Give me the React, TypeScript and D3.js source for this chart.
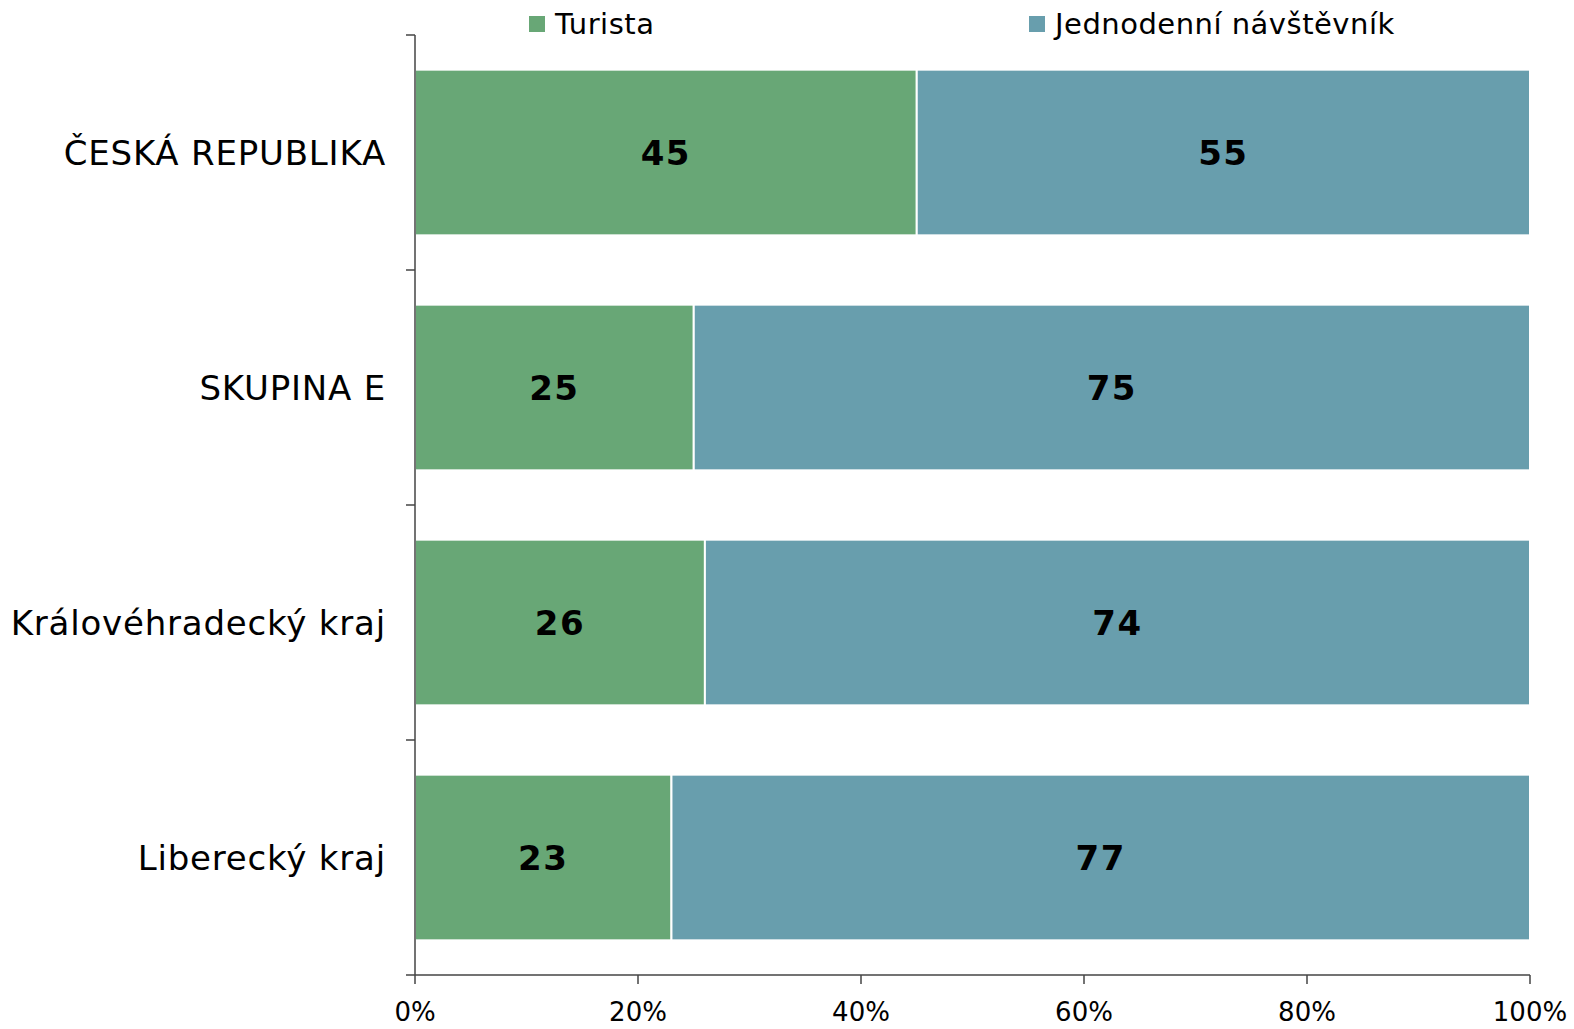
import React from "react";
import * as d3 from "d3";

const categories = ["ČESKÁ REPUBLIKA", "SKUPINA E", "Královéhradecký kraj", "Liberecký kraj"];
const turista = [45, 25, 26, 23];
const jednodenni = [55, 75, 74, 77];
const seriesNames = ["Turista", "Jednodenní návštěvník"];
const seriesColors = ["#68a776", "#689ead"];
const xTicks = [0, 20, 40, 60, 80, 100];

export default function App() {
  const W = 1574, H = 1029;
  const left = 415, right = 1530, top = 35, bottom = 975;
  const x = d3.scaleLinear().domain([0, 100]).range([left, right]);
  const y = d3.scaleBand().domain(categories).range([top, bottom]).paddingInner(0.295).paddingOuter(0.1475);
  const band = d3.scaleBand().domain(categories).range([top, bottom]);
  const font = "'DejaVu Sans', Verdana, sans-serif";
  const series = [turista, jednodenni];
  const stack = categories.map((c, i) => {
    let acc = 0;
    return series.map((s, k) => {
      const x0 = acc;
      acc += s[i];
      return { k, x0, x1: acc, v: s[i] };
    });
  });
  const axisColor = "#444";
  const legendX = [529, 1029];
  return (
    <svg width={W} height={H} style={{ position: "absolute", left: 0, top: 0, background: "#fff" }} fontFamily={font}>
      {/* bars */}
      {categories.map((c, i) =>
        stack[i].map((seg) => (
          <g key={c + seg.k}>
            <rect
              x={x(seg.x0)}
              y={y(c)}
              width={x(seg.x1) - x(seg.x0)}
              height={y.bandwidth()}
              fill={seriesColors[seg.k]}
              stroke="#fff"
              strokeWidth={2}
            />
            <text
              x={(x(seg.x0) + x(seg.x1)) / 2}
              y={y(c)! + y.bandwidth() / 2}
              dy="0.36em"
              textAnchor="middle"
              fontWeight="bold"
              fontSize={34}
              letterSpacing={1.5}
              fill="#000"
            >
              {seg.v}
            </text>
          </g>
        ))
      )}
      {/* y axis */}
      <line x1={left} x2={left} y1={top} y2={bottom} stroke={axisColor} strokeWidth={1.5} />
      {[...categories.map((c) => band(c)!), bottom].map((t, i) => (
        <line key={"yt" + i} x1={left - 9} x2={left} y1={t} y2={t} stroke={axisColor} strokeWidth={1.5} />
      ))}
      {categories.map((c) => (
        <text
          key={"cl" + c}
          x={386}
          y={band(c)! + band.bandwidth() / 2}
          dy="0.36em"
          textAnchor="end"
          fontSize={34}
          letterSpacing={0.8}
          fill="#000"
        >
          {c}
        </text>
      ))}
      {/* x axis */}
      <line x1={left} x2={right} y1={bottom} y2={bottom} stroke={axisColor} strokeWidth={1.5} />
      {xTicks.map((t) => (
        <g key={"xt" + t}>
          <line x1={x(t)} x2={x(t)} y1={bottom} y2={bottom + 9} stroke={axisColor} strokeWidth={1.5} />
          <text x={x(t)} y={1021} textAnchor="middle" fontSize={26} fill="#000">
            {t + "%"}
          </text>
        </g>
      ))}
      {/* legend */}
      {seriesNames.map((n, k) => (
        <g key={"lg" + n}>
          <rect x={legendX[k]} y={16} width={16} height={16} fill={seriesColors[k]} />
          <text x={legendX[k] + 26} y={34} fontSize={29} letterSpacing={0.5} fill="#000">
            {n}
          </text>
        </g>
      ))}
    </svg>
  );
}
